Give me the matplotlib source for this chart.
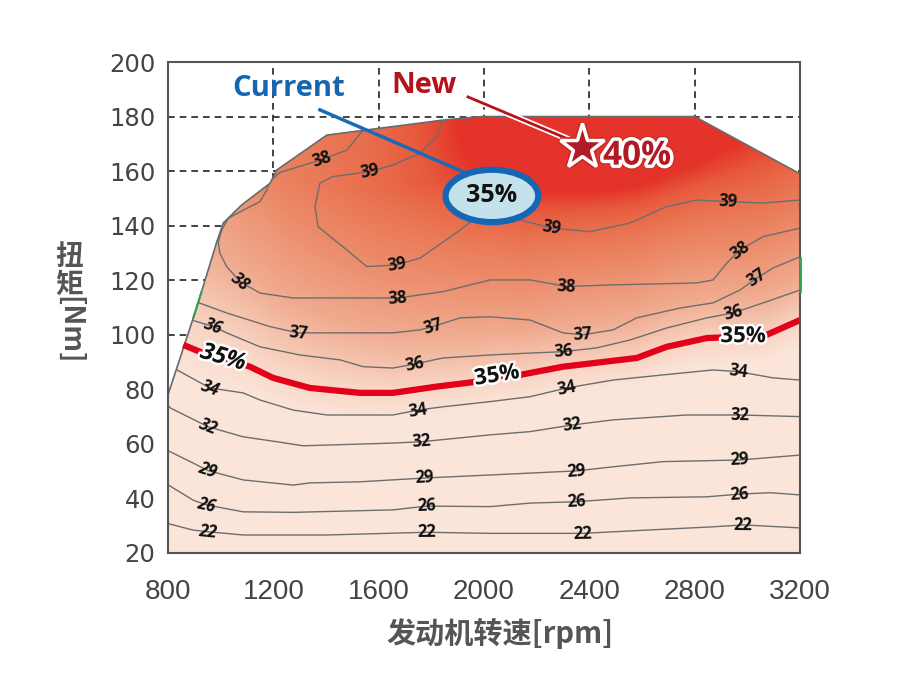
import numpy as np
import matplotlib
matplotlib.use('Agg')
import matplotlib.pyplot as plt
import matplotlib.patheffects as pe
from matplotlib.patches import Polygon, Ellipse
from matplotlib.colors import LinearSegmentedColormap

# ---- data (rpm, Nm) ----
env_rpm = [800, 800, 909, 985, 1010, 1080, 1187, 1213, 1403, 1844, 1966, 2000, 2800, 3200, 3200]
env_nm = [20, 78, 110, 134, 141, 147.6, 155.5, 160.4, 173.2, 178.7, 179.8, 180, 180, 159, 20]

c39_rpm = [1844, 1820, 1757, 1654, 1567, 1427, 1377, 1358, 1370, 1479, 1555, 1668, 1757, 1909, 1958,
           2050, 2137, 2257, 2402, 2555, 2694, 2808, 2927, 3060, 3200]
c39_nm = [178.7, 172.6, 166.6, 162.2, 159.8, 158, 155.6, 147, 139.6, 131.1, 125, 125.6, 128.1, 138.4, 142.1,
          144, 142.1, 139.1, 137.8, 141, 147, 149.4, 148.8, 148.3, 149.4]

c38_rpm = [1541, 1479, 1386, 1225, 1187, 1175, 1149, 1086, 1029, 1004, 991, 997, 1023, 1073, 1149, 1275,
           1529, 1673, 1844, 2023, 2175, 2314, 2490, 2808, 2870, 2922, 2972, 3060, 3200]
c38_nm = [175.1, 167.7, 164.3, 159.5, 156.2, 153.1, 148.8, 145.7, 142.7, 138.4, 134.1, 129.9, 125, 119.5,
          115.3, 113.5, 113.5, 113.5, 115.8, 120.1, 120.1, 117.7, 118.3, 119, 120.1, 126.3, 131.1, 136, 139.1]

c37_rpm = [918, 1023, 1187, 1294, 1403, 1654, 1757, 1806, 1909, 2023, 2175, 2300, 2376, 2490, 2580,
           2744, 2870, 2972, 3036, 3098, 3200]
c37_nm = [111.7, 108, 103, 100.7, 100.7, 100.7, 101.8, 103, 106.2, 106.6, 105.4, 100.7, 100, 101.8, 106.2,
          109.8, 111.7, 116.4, 120.8, 124.5, 128.6]

c36_rpm = [890, 972, 1023, 1149, 1301, 1453, 1542, 1654, 1738, 1844, 2023, 2175, 2300, 2428, 2555,
           2694, 2846, 2946, 3060, 3200]
c36_nm = [105.4, 103, 100.7, 95.6, 92.6, 90.8, 88.3, 87.8, 89.3, 91.5, 92.6, 93.3, 93.8, 95.2, 98.1,
          102.5, 106.2, 108, 111.7, 116.4]

c35_rpm = [858, 933, 1009, 1111, 1199, 1339, 1529, 1654, 1820, 1972, 2049, 2137, 2300, 2580, 2694,
           2846, 2984, 3074, 3200]
c35_nm = [96.3, 93.3, 91.5, 88.3, 84.2, 80.5, 78.7, 78.7, 81, 82.8, 84.9, 85.3, 88.3, 91.5, 95.6,
          98.8, 99.3, 100, 105.4]

c34_rpm = [827, 959, 1085, 1149, 1275, 1403, 1654, 1749, 1844, 2023, 2175, 2314, 2490, 2680, 2870,
           2965, 3098, 3200]
c34_nm = [87.5, 80.5, 78.7, 76.1, 72.4, 70.6, 70.6, 72.4, 73.6, 75.5, 77.3, 80.5, 83.4, 85.3, 87.1,
          86.5, 84.2, 83.4]

c32_rpm = [800, 808, 952, 1085, 1213, 1313, 1654, 1763, 1909, 2023, 2175, 2333, 2490, 2770, 2972, 3200]
c32_nm = [74.3, 73.2, 66.3, 62.6, 60.8, 59.3, 60.3, 60.8, 62.2, 63.3, 64.5, 66.9, 68.8, 70.6, 70.6, 70]

c29_rpm = [800, 895, 952, 1085, 1275, 1339, 1529, 1776, 2023, 2175, 2352, 2490, 2680, 2972, 3200]
c29_nm = [57.5, 53, 50.2, 46.8, 44.9, 45.7, 46.1, 47.5, 48.6, 49.3, 50.1, 51.6, 53.5, 54.1, 55.9]

c26_rpm = [800, 895, 947, 1085, 1275, 1654, 1782, 2023, 2175, 2352, 2555, 2846, 2972, 3086, 3200]
c26_nm = [45, 39.4, 37.6, 35.1, 34.9, 35.8, 37.2, 37, 38.3, 38.8, 40.2, 40.6, 41.6, 42.1, 41.3]

c22_rpm = [800, 895, 952, 1085, 1403, 1782, 2023, 2376, 2618, 2870, 2984, 3200]
c22_nm = [30.8, 28.4, 27.8, 26.6, 26.6, 27.6, 27.2, 27.2, 28.4, 29.6, 30.3, 29.2]

contours = {
    '39': (c39_rpm, c39_nm), '38': (c38_rpm, c38_nm), '37': (c37_rpm, c37_nm),
    '36': (c36_rpm, c36_nm), '34': (c34_rpm, c34_nm), '32': (c32_rpm, c32_nm),
    '29': (c29_rpm, c29_nm), '26': (c26_rpm, c26_nm), '22': (c22_rpm, c22_nm),
}
labels = {
    '39': [(1567, 159.8), (1668, 125.6), (2257, 139.1), (2927, 148.8)],
    '38': [(1386, 164.3), (1073, 119.5), (1673, 113.5), (2314, 117.7), (2972, 131.1)],
    '37': [(1294, 100.7), (1806, 103), (2376, 100), (3036, 120.8)],
    '36': [(972, 103), (1738, 89.3), (2300, 93.8), (2946, 108)],
    '34': [(959, 80.5), (1749, 72.4), (2314, 80.5), (2965, 86.5)],
    '32': [(952, 66.3), (1763, 60.8), (2333, 66.9), (2972, 70.6)],
    '29': [(952, 50.2), (1776, 47.5), (2352, 50.1), (2972, 54.1)],
    '26': [(947, 37.6), (1782, 37.2), (2352, 38.8), (2972, 41.6)],
    '22': [(952, 27.8), (1782, 27.6), (2376, 27.2), (2984, 30.3)],
}
red_labels = [(1009, 91.5), (2049, 84.9), (2984, 99.3)]

x_ticks = [800, 1200, 1600, 2000, 2400, 2800, 3200]
y_ticks = [20, 40, 60, 80, 100, 120, 140, 160, 180, 200]

current_xy = (2030, 150.9)
new_xy = (2372, 168.8)

CJK = ['Noto Sans CJK SC', 'DejaVu Sans']
LAT = ['Open Sans', 'DejaVu Sans']
GRAY = '#555555'

fig = plt.figure(figsize=(9.08, 7.0), dpi=100)
ax = fig.add_axes([168 / 908, 147 / 700, 632 / 908, 491 / 700])
ax.set_xlim(800, 3200)
ax.set_ylim(20, 200)

# dashed grid, hidden under the map
for gx in x_ticks[1:-1]:
    ax.plot([gx, gx], [20, 200], color='#222222', lw=1.2, ls=(0, (4, 3)), zorder=1)
for gy in [100, 120, 140, 160, 180]:
    ax.plot([800, 3200], [gy, gy], color='#222222', lw=1.2, ls=(0, (4, 3)), zorder=1)

# envelope + colour gradient
env = Polygon(np.column_stack([env_rpm, env_nm]), closed=True, facecolor='none',
              edgecolor='#6a6a6a', lw=1.2, zorder=4)
ax.add_patch(env)

gx_, gy_ = np.meshgrid(np.linspace(800, 3200, 600), np.linspace(20, 200, 450))
t35 = np.interp(gx_, c35_rpm, c35_nm)
v = np.clip((gy_ - t35 + 10) / 85, 0, 1) ** 0.9
lft = np.clip((gx_ - 850) / 1300, 0, 1)
hot = np.exp(-(((gx_ - 2400) / 520) ** 2 + ((gy_ - 176) / 27) ** 2))
s = np.clip(0.9 * v * (0.5 + 0.5 * lft) + 0.45 * hot, 0, 1)
cmap = LinearSegmentedColormap.from_list('eff', [
    (0.0, '#fbe5d9'), (0.12, '#f8d5c4'), (0.3, '#f0ab8f'), (0.5, '#ec8c6a'),
    (0.7, '#e9714f'), (0.85, '#e75a3c'), (1.0, '#e4332a')])
img = ax.imshow(s, extent=[800, 3200, 20, 200], origin='lower', aspect='auto',
                cmap=cmap, vmin=0, vmax=1, zorder=2, interpolation='bilinear')
img.set_clip_path(env)

# small green edge pieces on the envelope
g_nm = np.array([106.5, 115.5])
g_rpm = np.interp(g_nm, env_nm[1:6], env_rpm[1:6])
ax.plot(g_rpm, g_nm, color='#2ca44e', lw=1.5, zorder=5)
ax.plot([3199, 3199], [116, 128], color='#2ca44e', lw=2, zorder=13, clip_on=False)


def angle_at(xs, ys, px, py):
    xs = np.asarray(xs, float)
    ys = np.asarray(ys, float)
    i = int(np.argmin((xs - px) ** 2 + ((ys - py) * 13) ** 2))
    a, b = max(i - 1, 0), min(i + 1, len(xs) - 1)
    p1 = ax.transData.transform((xs[a], ys[a]))
    p2 = ax.transData.transform((xs[b], ys[b]))
    d = p2 - p1
    if d[0] < 0:
        d = -d
    return np.degrees(np.arctan2(d[1], d[0]))


for lev, (xs, ys) in contours.items():
    ln, = ax.plot(xs, ys, color='#6d6d6d', lw=1.0, zorder=5)
    ln.set_clip_path(env)
    for (lx, ly) in labels[lev]:
        rot = angle_at(xs, ys, lx, ly)
        italic = lx < 1100
        ax.text(lx, ly, lev, fontsize=12, family=LAT, weight='bold',
                style='italic' if italic else 'normal', color='#111111', rotation=rot,
                rotation_mode='anchor', ha='center', va='center', zorder=7)

# 35% line
ax.plot(c35_rpm, c35_nm, color='#e2001a', lw=4.5, zorder=6, solid_capstyle='butt')
for k, (lx, ly) in enumerate(red_labels):
    rot = angle_at(c35_rpm, c35_nm, lx, ly) if k < 2 else 0
    ax.text(lx, ly, '35%', fontsize=17 if k == 0 else 16, family=LAT, weight='bold',
            style='italic' if k == 0 else 'normal', color='#111111', rotation=rot,
            rotation_mode='anchor', ha='center', va='center', zorder=8,
            path_effects=[pe.withStroke(linewidth=3.5, foreground='white')])

# "Current" marker
ax.plot([1371, 1934], [182.7, 159.2], color='#1a6ab5', lw=2.5, zorder=9, solid_capstyle='butt')
ax.add_patch(Ellipse(current_xy, 352, 19.2, facecolor='#c3e2ea', edgecolor='#1566b4', lw=4.5, zorder=10))
ax.text(current_xy[0], current_xy[1], '35%', fontsize=18, family=LAT,
        weight='bold', color='#111111', ha='center', va='center', zorder=11)
ax.text(1259, 190.3, 'Current', fontsize=21, family=LAT, weight='bold',
        color='#1565b3', ha='center', va='center', zorder=11)

# "New" marker
ax.plot([1939, 2311], [187.2, 172.1], color='#b5121b', lw=2, zorder=9,
        path_effects=[pe.Stroke(linewidth=4.5, foreground='white'), pe.Normal()])
ax.text(1772, 191.4, 'New', fontsize=21, family=LAT, weight='bold',
        color='#b5121b', ha='center', va='center', zorder=11)
ax.plot(*new_xy, marker='*', ms=34, color='#b01a24', mec='white', mew=2.5, zorder=11,
        path_effects=[pe.Stroke(linewidth=5, foreground='#c62d2a'), pe.Normal()])
ax.text(2452, 165.5, '40%', fontsize=24, family=LAT, weight='bold',
        color='#b01a24', ha='left', va='center', zorder=11,
        path_effects=[pe.Stroke(linewidth=7, foreground='#c8322c'),
                      pe.Stroke(linewidth=5, foreground='white'), pe.Normal()])

# axes styling
for sp in ax.spines.values():
    sp.set_color('#555555')
    sp.set_linewidth(1.5)
    sp.set_zorder(12)
ax.set_xticks(x_ticks)
ax.set_yticks(y_ticks)
ax.tick_params(length=0)
ax.tick_params(axis='x', pad=19)
ax.tick_params(axis='y', pad=9)
for t in ax.get_xticklabels():
    t.set_fontfamily(['Liberation Sans Narrow', 'Liberation Sans'])
    t.set_fontsize(20)
    t.set_color('#444444')
for t in ax.get_yticklabels():
    t.set_fontfamily(['DejaVu Sans'])
    t.set_fontsize(17.5)
    t.set_color('#444444')

fig.text(500 / 908, 1 - 633 / 700, '发动机转速[rpm]', family=CJK, fontsize=21, weight='bold',
         color=GRAY, ha='center', va='center')
fig.text(69 / 908, 1 - 271 / 700, '扭\n矩', family=CJK, fontsize=20, weight='bold',
         color=GRAY, ha='center', va='center', linespacing=1.0)
fig.text(69 / 908, 1 - 330 / 700, '[Nm]', family=CJK, fontsize=20, weight='bold',
         color=GRAY, ha='center', va='center', rotation=270)

fig.savefig('out.png', dpi=100)
